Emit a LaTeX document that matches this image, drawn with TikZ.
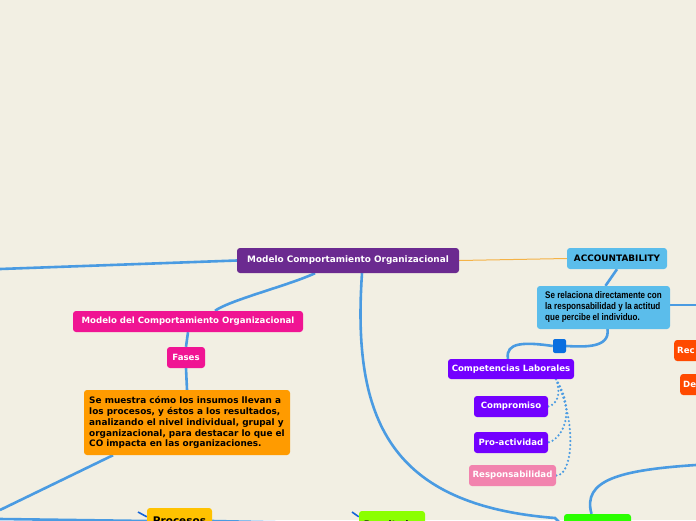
\documentclass[tikz,border=0pt]{standalone}
\usepackage{fontspec}
\setmainfont{DejaVu Sans}
\newfontfamily\narrowfont[FakeStretch=0.84]{Liberation Sans}
\definecolor{bg}{HTML}{F2EFE3}
\definecolor{cmain}{HTML}{6B2A90}
\definecolor{csky}{HTML}{5BBDEB}
\definecolor{csq}{HTML}{0A6FE0}
\definecolor{cviolet}{HTML}{7300FF}
\definecolor{cpink}{HTML}{F283AE}
\definecolor{cred}{HTML}{FF4A00}
\definecolor{cmag}{HTML}{F01493}
\definecolor{corange}{HTML}{FF9B00}
\definecolor{cyellow}{HTML}{FFC200}
\definecolor{clime}{HTML}{8BFF00}
\definecolor{cgreen}{HTML}{2BFF00}
\definecolor{clink}{HTML}{4A9BE2}
\definecolor{cthin}{HTML}{F5B347}
\definecolor{ctick}{HTML}{1565D8}
\pgfdeclarelayer{bgl}
\pgfdeclarelayer{edges}
\pgfsetlayers{bgl,edges,main}
\tikzset{
  box/.style={rectangle, rounded corners=3pt, inner sep=0pt, font=\bfseries\fontsize{8.6}{10}\selectfont},
  wbox/.style={box, text=white},
  link/.style={draw=clink, line width=2.6pt},
  dotlink/.style={draw=clink, line width=2.4pt, line cap=round, dash pattern=on 0pt off 4pt},
}
\begin{document}
\begin{tikzpicture}[x=1pt,y=-1pt]
\begin{pgfonlayer}{bgl}
\fill[bg] (0,0) rectangle (696,520);
\end{pgfonlayer}
\useasboundingbox (0,0) rectangle (696,520);
\clip (0,0) rectangle (696,520);

% nodes
\node[wbox, fill=cmain, minimum width=222pt, minimum height=25pt, font=\bfseries\fontsize{8.9}{10}\selectfont] (main) at (348,260.5) {Modelo Comportamiento Organizacional};
\node[box, fill=csky, minimum width=100pt, minimum height=21pt, font=\bfseries\fontsize{8.9}{10}\selectfont] (acc) at (617,258.5) {ACCOUNTABILITY};
\node[box, fill=csky, minimum width=133pt, minimum height=43pt, align=left, font=\narrowfont\bfseries\fontsize{9.6}{11}\selectfont] (serel) at (603.5,307.5) {Se relaciona directamente con\\la responsabilidad y la actitud\\que percibe el individuo.};
\node[rectangle, rounded corners=2pt, fill=csq, minimum width=13pt, minimum height=14pt, inner sep=0pt] (sq) at (559.5,346) {};
\node[wbox, fill=cviolet, minimum width=126pt, minimum height=20pt] (comp) at (511,369) {Competencias Laborales};
\node[wbox, fill=cviolet, minimum width=74pt, minimum height=21pt] (compro) at (511,406.5) {Compromiso};
\node[wbox, fill=cviolet, minimum width=74pt, minimum height=21pt] (proact) at (511,442.5) {Pro-actividad};
\node[wbox, fill=cpink, minimum width=87pt, minimum height=21pt] (resp) at (512.5,475.5) {Responsabilidad};
\node[wbox, fill=cred, minimum width=60pt, minimum height=21pt, anchor=west, text width=54pt, align=left] (rec) at (674,350.5) {Rec};
\node[wbox, fill=cred, minimum width=60pt, minimum height=21pt, anchor=west, text width=54pt, align=left] (de) at (680,384.5) {De};

\node[wbox, fill=cmag, minimum width=230pt, minimum height=21pt] (mdco) at (188,321.5) {Modelo del Comportamiento Organizacional};
\node[wbox, fill=cmag, minimum width=38pt, minimum height=21pt] (fases) at (186,357.5) {Fases};
\node[box, fill=corange, minimum width=206pt, minimum height=65pt, align=left, font=\bfseries\fontsize{8.9}{10.9}\selectfont] (orng) at (187,422.5) {Se muestra cómo los insumos llevan a\\los procesos, y éstos a los resultados,\\analizando el nivel individual, grupal y\\organizacional, para destacar lo que el\\CO impacta en las organizaciones.};

\node[box, fill=cyellow, minimum width=65pt, minimum height=26pt, font=\bfseries\fontsize{10.5}{12}\selectfont] (proc) at (179.5,521) {Procesos};
\node[box, fill=clime, minimum width=66pt, minimum height=26pt, font=\bfseries\fontsize{9}{10}\selectfont] (resu) at (392,524) {Resultados};
\node[box, fill=cgreen, minimum width=67pt, minimum height=26pt] (grn) at (597.5,527) {};

% free ends
\coordinate (offL) at (0,269);
\coordinate (offR1) at (696,305);
\coordinate (offR2) at (696,465);
\coordinate (offL2) at (0,510);
\coordinate (bl) at (0,519);
\coordinate (t1) at (138,512);
\coordinate (t2) at (352,512);
\coordinate (t3) at (555,518);

\begin{pgfonlayer}{edges}
\draw[link] (main.west) -- (offL);
\draw[draw=cthin, line width=1pt] (main.east) -- (acc.west);
\draw[link] ([xshift=-33pt]main.south) .. controls (290,285) and (230,300) .. ([xshift=27pt]mdco.north);
\draw[link] ([xshift=14pt]main.south) .. controls (352,420) and (390,505) .. (t3) -- (grn.west);
\draw[link] (acc.south) -- ([xshift=2pt]serel.north);
\draw[link] (serel.east |- offR1) -- (offR1);
\draw[link] ([xshift=4pt]serel.south) .. controls (610,348) and (585,347) .. (sq.east);
\draw[link] (sq.west) .. controls (525,342) and (505,342) .. ([xshift=-3pt]comp.north);
\draw[dotlink] ([xshift=45pt]comp.south) .. controls (562,395) and (556,405) .. (compro.east);
\draw[dotlink] ([xshift=45pt]comp.south) .. controls (578,415) and (560,440) .. (proact.east);
\draw[dotlink] ([xshift=45pt]comp.south) .. controls (578,425) and (572,476) .. (resp.east);
\draw[link] (mdco.south) -- (fases.north);
\draw[link] (fases.south) -- (orng.north);
\draw[link] ([xshift=-74pt]orng.south) -- (offL2);
\draw[link] (bl) -- (proc.west);
\draw[link] (proc.east) -- (resu.west);
\draw[draw=ctick, line width=1.6pt] (t1) -- ([yshift=-9pt]proc.north west);
\draw[draw=ctick, line width=1.6pt] (t2) -- ([yshift=-6pt]resu.north west);
\draw[link] ([xshift=-6pt]grn.north) .. controls (582,480) and (620,470) .. (offR2);
\end{pgfonlayer}
\end{tikzpicture}
\end{document}
